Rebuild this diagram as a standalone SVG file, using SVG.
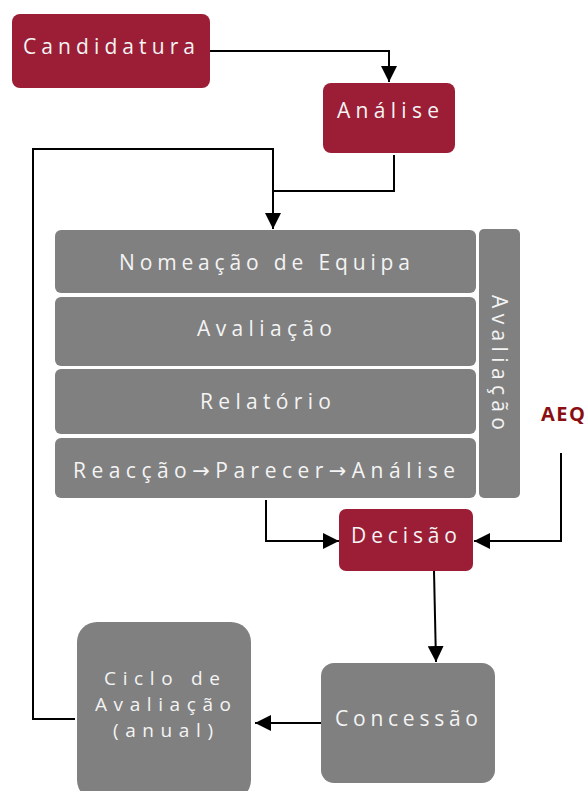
<svg xmlns="http://www.w3.org/2000/svg" width="586" height="791" viewBox="0 0 586 791">
<style>
.red{fill:#9b1e36}
.gray{fill:#808080}
.t{font-family:"Open Sans","Noto Sans","DejaVu Sans",sans-serif;font-size:21px;fill:#f4f4f4}
.s{font-size:19px}
.aeq{font-family:"Open Sans","Noto Sans","DejaVu Sans",sans-serif;font-size:20px;font-weight:bold;fill:#8a0f12}
.c{fill:none;stroke:#000;stroke-width:2}
</style>
<defs>
<marker id="ah" markerUnits="userSpaceOnUse" markerWidth="16" markerHeight="16" refX="16" refY="8" orient="auto">
<path d="M0,0 L16,8 L0,16 z" fill="#000"/>
</marker>
</defs>
<rect width="586" height="791" fill="#fff"/>
<g id="connectors">
<path class="c" d="M210,51 H389 V82" marker-end="url(#ah)"/>
<path class="c" d="M394,155 V191 H273 V229" stroke-width="2.5" marker-end="url(#ah)"/>
<path class="c" d="M75,719 H33 V149 H273 V210"/>
<path class="c" d="M266,500 V541 H339" marker-end="url(#ah)"/>
<path class="c" d="M561,453 V541 H474" marker-end="url(#ah)"/>
<path class="c" d="M434,571 L436,662" marker-end="url(#ah)"/>
<path class="c" d="M321,723 H255" marker-end="url(#ah)"/>
</g>
<g id="candidatura">
<rect class="red" x="12" y="14" width="198" height="74" rx="8"/>
<text class="t" x="23" y="54" textLength="172" lengthAdjust="spacing">Candidatura</text>
</g>
<g id="analise">
<rect class="red" x="323" y="83" width="132" height="70" rx="8"/>
<text class="t" x="337" y="118" textLength="102" lengthAdjust="spacing">Análise</text>
</g>
<g id="nomeacao">
<rect class="gray" x="55" y="230" width="421" height="63" rx="6"/>
<text class="t" x="119" y="270" textLength="291" lengthAdjust="spacing">Nomeação de Equipa</text>
</g>
<g id="avaliacao">
<rect class="gray" x="55" y="297" width="421" height="69" rx="6"/>
<text class="t" x="197" y="336" textLength="135" lengthAdjust="spacing">Avaliação</text>
</g>
<g id="relatorio">
<rect class="gray" x="55" y="369" width="421" height="65" rx="6"/>
<text class="t" x="200" y="409" textLength="131" lengthAdjust="spacing">Relatório</text>
</g>
<g id="reaccao">
<rect class="gray" x="55" y="438" width="421" height="60" rx="6"/>
<text class="t" x="73" y="478" textLength="382" lengthAdjust="spacing">Reacção→Parecer→Análise</text>
</g>
<g id="avaliacao-bar">
<rect class="gray" x="479" y="229" width="41" height="269" rx="5"/>
<text class="t" transform="translate(492,295) rotate(90)" textLength="135" lengthAdjust="spacing">Avaliação</text>
</g>
<g id="aeq">
<text class="aeq" x="541" y="421" textLength="44" lengthAdjust="spacing">AEQ</text>
</g>
<g id="decisao">
<rect class="red" x="339" y="509" width="134" height="62" rx="7"/>
<text class="t" x="351" y="543" textLength="106" lengthAdjust="spacing">Decisão</text>
</g>
<g id="concessao">
<rect class="gray" x="321" y="663" width="174" height="120" rx="13"/>
<text class="t" x="335" y="726" textLength="143" lengthAdjust="spacing">Concessão</text>
</g>
<g id="ciclo">
<rect class="gray" x="77" y="622" width="174" height="178" rx="20"/>
<text class="t s" x="104" y="685" textLength="116" lengthAdjust="spacing">Ciclo de</text>
<text class="t s" x="95" y="711" textLength="136" lengthAdjust="spacing">Avaliação</text>
<text class="t s" x="113" y="737" textLength="100" lengthAdjust="spacing">(anual)</text>
</g>
</svg>
